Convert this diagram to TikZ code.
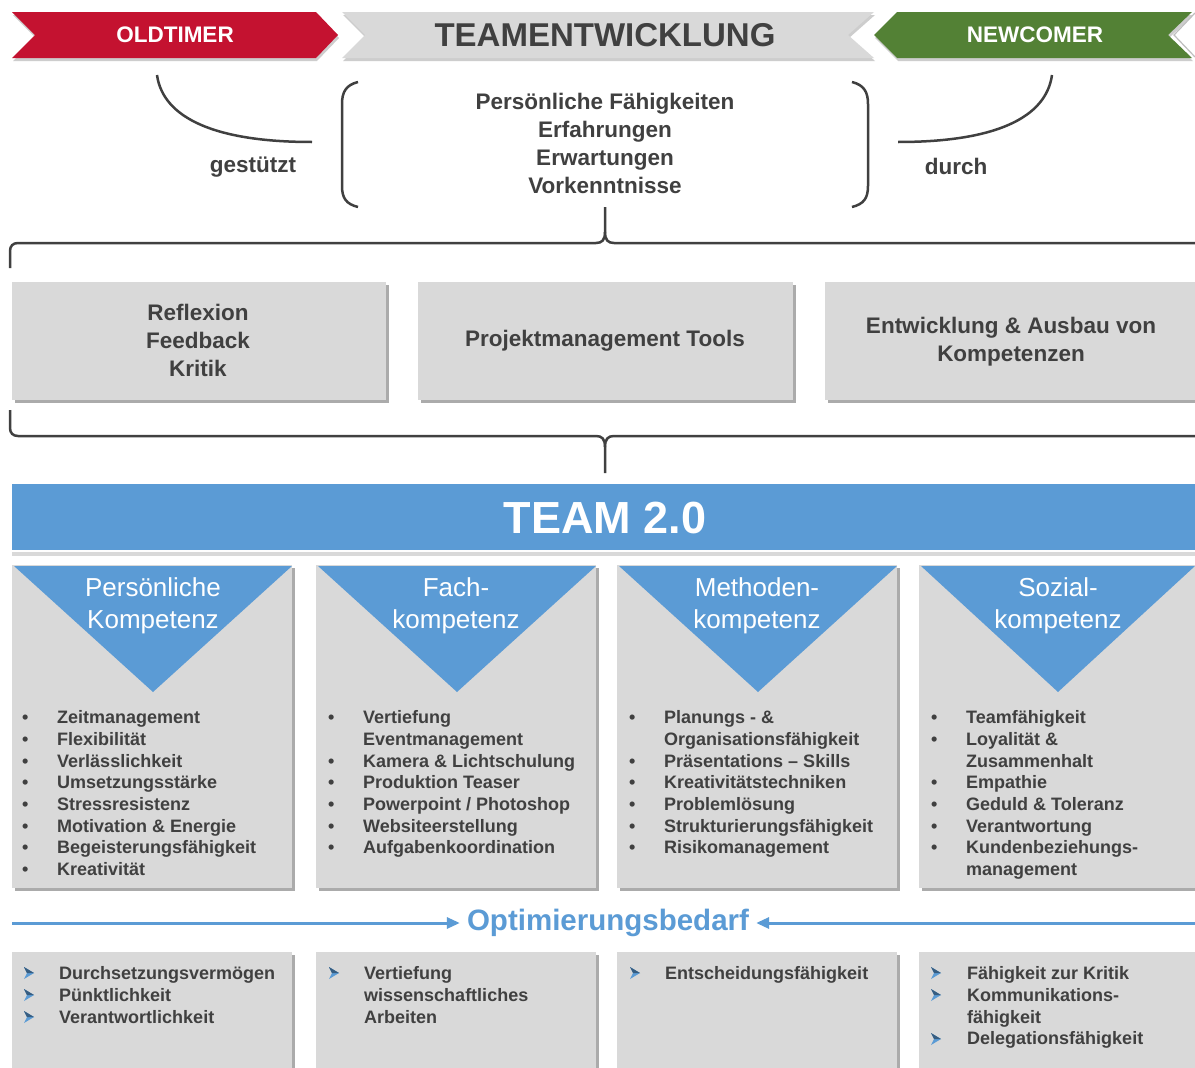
\documentclass[tikz,border=0pt]{standalone}
\usepackage{fontspec}
\setmainfont{Liberation Sans}
\usetikzlibrary{arrows.meta}
\definecolor{txt}{HTML}{404040}
\definecolor{bred}{HTML}{C41230}
\definecolor{bgreen}{HTML}{538135}
\definecolor{lgray}{HTML}{D9D9D9}
\definecolor{tblue}{HTML}{5B9BD5}
\definecolor{shad}{HTML}{ABABAB}
\newcommand\blt{\makebox[35pt][l]{\textbullet}}
\newcommand\bind{\hspace*{35pt}}
\begin{document}
\begin{tikzpicture}[x=1pt,y=-1pt,
  lbl/.style={font=\bfseries\fontsize{22.5}{28}\selectfont, text=txt, align=center, inner sep=0},
  btxt/.style={font=\bfseries\fontsize{22.5}{27}\selectfont, text=white, inner sep=0},
  ttl/.style={font=\fontsize{26}{32}\selectfont, text=white, align=center, inner sep=0},
  itm/.style={font=\bfseries\fontsize{18}{21.7}\selectfont, text=txt, align=left, inner sep=0, anchor=north west},
  brk/.style={draw=txt, line width=2.5pt},
  oarrow/.style={draw=tblue, line width=3pt, -{Triangle[length=13pt,width=11pt]}},
  shadowfill/.style={fill=shad},
  panelfill/.style={fill=lgray},
]
\useasboundingbox[fill=white] (0,0) rectangle (1195,1068);

% ---------- top banner ----------
\fill[shad!60, shift={(1,3)}] (12,12) -- (316,12) -- (338,35) -- (316,58) -- (12,58) -- (35,35) -- cycle;
\fill[shad!60, shift={(1,3)}] (342,12) -- (874,12) -- (848,35) -- (874,58) -- (342,58) -- (365,35) -- cycle;
\fill[shad!60, shift={(1,3)}] (874,35) -- (897,12) -- (1192,12) -- (1168,35) -- (1192,58) -- (897,58) -- cycle;
\fill[bred] (12,12) -- (316,12) -- (338,35) -- (316,58) -- (12,58) -- (35,35) -- cycle;
\fill[lgray] (342,12) -- (874,12) -- (848,35) -- (874,58) -- (342,58) -- (365,35) -- cycle;
\fill[bgreen] (874,35) -- (897,12) -- (1192,12) -- (1168,35) -- (1192,58) -- (897,58) -- cycle;
\draw[lgray!70!gray, line width=1.2pt] (1195,13) -- (1174,35) -- (1195,57);

\node[btxt] (old) at (175,35) {OLDTIMER};
\node[font=\bfseries\fontsize{33}{40}\selectfont, text=txt, inner sep=0] (teamdev) at (605,35) {TEAMENTWICKLUNG};
\node[btxt] (new) at (1035,35) {NEWCOMER};

% ---------- brackets and hooks ----------
\node[lbl] (ctr) at (605,143) {Persönliche Fähigkeiten\\Erfahrungen\\Erwartungen\\Vorkenntnisse};
\draw[brk] (358,82) .. controls (346,85) and (342,92) .. (342,104) -- (342,186) .. controls (342,198) and (346,204) .. (358,207);
\draw[brk] (852,82) .. controls (864,85) and (868,92) .. (868,104) -- (868,186) .. controls (868,198) and (864,204) .. (852,207);

\coordinate (oldB) at (157,75);
\coordinate (oldE) at (312,142);
\coordinate (newB) at (1052,75);
\coordinate (newE) at (898,142);
\draw[brk] (oldB) .. controls (163,118) and (215,142) .. (oldE);
\draw[brk] (newB) .. controls (1046,118) and (995,142) .. (newE);
\node[lbl] (gest) at (253,167) {gestützt};
\node[lbl] (durch) at (956,166) {durch};

% ---------- upper brace ----------
\coordinate (b1top) at (605,207);
\draw[brk] (10,268) -- (10,251) .. controls (10,246) and (13,243) .. (18,243) -- (596,243) .. controls (602,243) and (605,240) .. (605,232) -- (b1top);
\draw[brk] (605,232) .. controls (605,240) and (608,243) .. (614,243) -- (1195,243);

% ---------- three boxes ----------
\foreach \a/\b in {12/386, 418/793, 825/1195}{
  \fill[shadowfill] (\a+3,285) rectangle (\b+3,403);
  \fill[panelfill] (\a,282) rectangle (\b,400);
}
\node[lbl] (refl) at (198,340) {Reflexion\\Feedback\\Kritik};
\node[lbl] (pm) at (605,341) {Projektmanagement Tools};
\node[lbl] (entw) at (1011,342) {Entwicklung \& Ausbau von\\Kompetenzen};

% ---------- lower brace ----------
\coordinate (b2bot) at (605,473);
\draw[brk] (10,410) -- (10,428) .. controls (10,433) and (13,436) .. (18,436) -- (596,436) .. controls (602,436) and (605,439) .. (605,447) -- (b2bot);
\draw[brk] (605,447) .. controls (605,439) and (608,436) .. (614,436) -- (1195,436);

% ---------- TEAM 2.0 ----------
\fill[lgray] (12,552) rectangle (1195,556);
\fill[tblue] (12,484) rectangle (1195,550);
\node[font=\bfseries\fontsize{45}{54}\selectfont, text=white, inner sep=0] (team) at (605,518) {TEAM 2.0};

% ---------- four competence columns ----------
\foreach \a/\b in {12/292, 316/596, 617/897, 919/1195}{
  \fill[shadowfill] (\a+3,568) rectangle (\b+3,891);
  \fill[panelfill] (\a,565) rectangle (\b,888);
  \fill[tblue] (\a+2,566) -- (\b,566) -- ({(\a+\b)/2+1},692) -- cycle;
}
\node[ttl] (k1) at (153,606) {Persönliche\\Kompetenz};
\node[ttl] (k2) at (456,606) {Fach-\\kompetenz};
\node[ttl] (k3) at (757,606) {Methoden-\\kompetenz};
\node[ttl] (k4) at (1058,606) {Sozial-\\kompetenz};

\node[itm] (l1) at (22,710.5) {\blt Zeitmanagement\\\blt Flexibilität\\\blt Verlässlichkeit\\\blt Umsetzungsstärke\\\blt Stressresistenz\\\blt Motivation \& Energie\\\blt Begeisterungsfähigkeit\\\blt Kreativität};
\node[itm] (l2) at (328,710.5) {\blt Vertiefung\\\bind Eventmanagement\\\blt Kamera \& Lichtschulung\\\blt Produktion Teaser\\\blt Powerpoint / Photoshop\\\blt Websiteerstellung\\\blt Aufgabenkoordination};
\node[itm] (l3) at (629,710.5) {\blt Planungs - \&\\\bind Organisationsfähigkeit\\\blt Präsentations – Skills\\\blt Kreativitätstechniken\\\blt Problemlösung\\\blt Strukturierungsfähigkeit\\\blt Risikomanagement};
\node[itm] (l4) at (931,710.5) {\blt Teamfähigkeit\\\blt Loyalität \&\\\bind Zusammenhalt\\\blt Empathie\\\blt Geduld \& Toleranz\\\blt Verantwortung\\\blt Kundenbeziehungs-\\\bind management};

% ---------- Optimierungsbedarf ----------
\node[font=\bfseries\fontsize{29.5}{35}\selectfont, text=tblue, inner ysep=0, inner xsep=7pt] (opt) at (608,923) {Optimierungsbedarf};
\coordinate (oL) at (12,923);
\coordinate (oR) at (1195,923);
\draw[oarrow] (oL) -- (opt.west);
\draw[oarrow] (oR) -- (opt.east);

% ---------- bottom panels ----------
\foreach \a/\b in {12/292, 316/596, 617/897, 919/1195}{
  \fill[shadowfill] (\a+3,955) rectangle (\b+3,1068);
  \fill[panelfill] (\a,952) rectangle (\b,1068);
}
\foreach \x/\y in {24/973, 24/995, 24/1017, 329/973, 630/973, 931/973, 931/995, 931/1039}{
  \fill[tblue] ({\x},{\y-6}) -- ({\x+10},{\y}) -- ({\x},{\y+6}) -- ({\x+3},{\y}) -- cycle;
  \fill[tblue!60!black] ({\x},{\y-6}) -- ({\x+10},{\y}) -- ({\x+3},{\y}) -- cycle;
}
\node[itm] (o1) at (59,966.5) {Durchsetzungsvermögen\\Pünktlichkeit\\Verantwortlichkeit};
\node[itm] (o2) at (364,966.5) {Vertiefung\\wissenschaftliches\\Arbeiten};
\node[itm] (o3) at (665,966.5) {Entscheidungsfähigkeit};
\node[itm] (o4) at (967,966.5) {Fähigkeit zur Kritik\\Kommunikations-\\fähigkeit\\Delegationsfähigkeit};
\end{tikzpicture}
\end{document}
